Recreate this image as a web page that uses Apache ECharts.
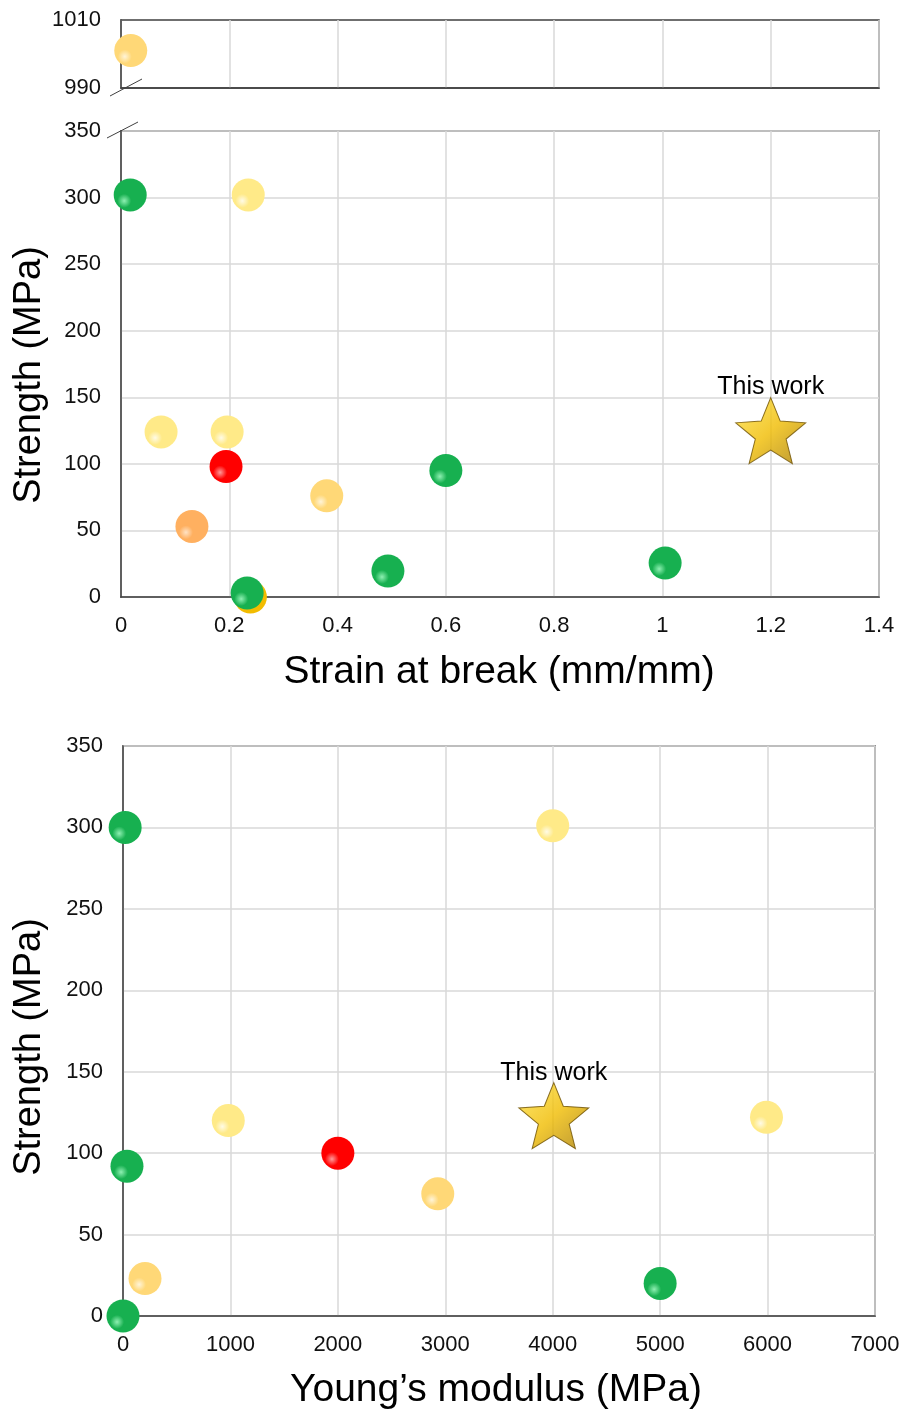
<!DOCTYPE html>
<html>
<head>
<meta charset="utf-8">
<script src="https://cdn.jsdelivr.net/npm/echarts@6/dist/echarts.min.js"></script>
<style>
html,body{margin:0;padding:0;background:#fff;}
#chart{width:903px;height:1414px;}
</style>
</head>
<body>
<div id="chart"></div>
<script>
// ---------- DATA ----------
// Chart 1: Strength vs strain at break
const strainTop = [[0.018, 1001]];                     // broken-axis upper panel (light gold)
const strainDeepGold = [[0.239, 0]];                   // mostly hidden behind a green ball
const strainGold = [[0.38, 76]];                       // light gold
const strainPale = [[0.235, 302], [0.074, 124], [0.196, 124]];
const strainRed = [[0.194, 98]];
const strainOrange = [[0.131, 53]];
const strainGreen = [[0.017, 302], [0.6, 95], [0.493, 19.5], [0.233, 3], [1.005, 25.5]];
const strainStar = [[1.2, 125]];

// Chart 2: Strength vs Young's modulus
const modGold = [[2930, 75], [205, 23]];
const modPale = [[4000, 301], [980, 120], [5990, 122]];
const modRed = [[2000, 100]];
const modGreen = [[20, 300], [37, 92], [0, 0], [5000, 20]];
const modStar = [[4010, 123]];

const starLabel = 'This work';

// ---------- STYLE ----------
const FONT = '"Liberation Sans", Arial, sans-serif';
const TXT = '#000';
const TICK = '#111';
const AX = '#404040';
const GRIDC = '#d9d9d9';

function ball(base, light) {
  return {
    type: 'radial', x: 0.32, y: 0.68, r: 0.75,
    colorStops: [
      {offset: 0, color: light},
      {offset: 0.28, color: base},
      {offset: 1, color: base}
    ]
  };
}
const C_GREEN = ball('#17b050', '#8ef0b2');
const C_RED = ball('#ff0000', '#ff9a9a');
const C_ORANGE = ball('#ffb060', '#ffe2c4');
const C_PALE = ball('#ffea88', '#fffbe6');
const C_GOLD = ball('#ffd877', '#fff4d8');
const C_DEEPGOLD = ball('#f2bc00', '#ffe066');

const STAR = 'path://M50 0 L62.93 32.2 L97.55 34.55 L70.92 56.8 L79.39 90.45 L50 72 L20.61 90.45 L29.08 56.8 L2.45 34.55 L37.07 32.2 Z';
const starStyle = {
  color: {type: 'linear', x: 0, y: 0, x2: 1, y2: 1, colorStops: [
    {offset: 0, color: '#ffe34a'}, {offset: 0.5, color: '#f0bc00'}, {offset: 1, color: '#a87c00'}
  ]},
  borderColor: '#6e5000', borderWidth: 1
};

function sc(x, y, data, color) {
  return {
    type: 'scatter', xAxisIndex: x, yAxisIndex: y, data: data,
    symbolSize: 33, clip: false, itemStyle: {color: color, opacity: 1}, z: 3
  };
}
function starSeries(x, y, data) {
  return {
    type: 'scatter', xAxisIndex: x, yAxisIndex: y, data: data, clip: false,
    symbol: STAR, symbolSize: [70, 66], itemStyle: starStyle, z: 4,
    label: {show: true, position: 'top', distance: -3, formatter: starLabel,
      fontFamily: FONT, fontSize: 25, color: '#000', opacity: 1}
  };
}

const axisLbl = {fontFamily: FONT, fontSize: 22, color: TICK};

const chart = echarts.init(document.getElementById('chart'), null, {renderer: 'canvas'});
chart.setOption({
  animation: false,
  backgroundColor: '#fff',
  grid: [
    {left: 121, top: 20, width: 758, height: 68, show: true, borderColor: AX, borderWidth: 1.5},
    {left: 121, top: 131, width: 758, height: 466, show: true, borderColor: AX, borderWidth: 1.5},
    {left: 123, top: 746, width: 752, height: 570, show: true, borderColor: AX, borderWidth: 1.5}
  ],
  xAxis: [
    {gridIndex: 0, type: 'value', min: 0, max: 1.4, interval: 0.2,
      axisLabel: {show: false}, axisTick: {show: false},
      axisLine: {show: true, lineStyle: {color: AX, width: 1.5}},
      splitLine: {show: true, lineStyle: {color: GRIDC, width: 1.5}}},
    {gridIndex: 1, type: 'value', min: 0, max: 1.4, interval: 0.2,
      axisLabel: Object.assign({margin: 18, formatter: v => String(+v.toFixed(1))}, axisLbl),
      axisTick: {show: false},
      axisLine: {show: true, lineStyle: {color: AX, width: 1.5}},
      splitLine: {show: true, lineStyle: {color: GRIDC, width: 1.5}}},
    {gridIndex: 2, type: 'value', min: 0, max: 7000, interval: 1000,
      axisLabel: Object.assign({margin: 18, formatter: v => String(v)}, axisLbl),
      axisTick: {show: false},
      axisLine: {show: true, lineStyle: {color: AX, width: 1.5}},
      splitLine: {show: true, lineStyle: {color: GRIDC, width: 1.5}}}
  ],
  yAxis: [
    {gridIndex: 0, type: 'value', min: 990, max: 1010, interval: 10,
      axisLabel: Object.assign({margin: 20, formatter: v => (v === 1000 ? '' : String(v))}, axisLbl),
      axisTick: {show: false},
      axisLine: {show: true, lineStyle: {color: AX, width: 1.5}},
      splitLine: {show: false}},
    {gridIndex: 1, type: 'value', min: 0, max: 350, interval: 50,
      axisLabel: Object.assign({margin: 20}, axisLbl),
      axisTick: {show: false},
      axisLine: {show: true, lineStyle: {color: AX, width: 1.5}},
      splitLine: {show: true, lineStyle: {color: GRIDC, width: 1.5}}},
    {gridIndex: 2, type: 'value', min: 0, max: 350, interval: 50,
      axisLabel: Object.assign({margin: 20}, axisLbl),
      axisTick: {show: false},
      axisLine: {show: true, lineStyle: {color: AX, width: 1.5}},
      splitLine: {show: true, lineStyle: {color: GRIDC, width: 1.5}}}
  ],
  series: [
    sc(0, 0, strainTop, C_GOLD),
    sc(1, 1, strainDeepGold, C_DEEPGOLD),
    sc(1, 1, strainGold, C_GOLD),
    sc(1, 1, strainPale, C_PALE),
    sc(1, 1, strainOrange, C_ORANGE),
    sc(1, 1, strainRed, C_RED),
    sc(1, 1, strainGreen, C_GREEN),
    starSeries(1, 1, strainStar),
    sc(2, 2, modGold, C_GOLD),
    sc(2, 2, modPale, C_PALE),
    sc(2, 2, modRed, C_RED),
    sc(2, 2, modGreen, C_GREEN),
    starSeries(2, 2, modStar)
  ],
  graphic: [
    {type: 'line', shape: {x1: 110, y1: 96, x2: 142, y2: 79}, style: {stroke: AX, lineWidth: 1}, z: 10},
    {type: 'line', shape: {x1: 107, y1: 138, x2: 138, y2: 122}, style: {stroke: AX, lineWidth: 1}, z: 10},
    {type: 'text', x: 499, y: 672, style: {text: 'Strain at break (mm/mm)', font: '39px ' + FONT, fill: TXT, textAlign: 'center', textVerticalAlign: 'middle'}},
    {type: 'text', x: 496, y: 1390, style: {text: 'Young\u2019s modulus (MPa)', font: '39px ' + FONT, fill: TXT, textAlign: 'center', textVerticalAlign: 'middle'}},
    {type: 'text', x: 30, y: 375, rotation: Math.PI / 2, style: {text: 'Strength (MPa)', font: '38px ' + FONT, fill: TXT, textAlign: 'center', textVerticalAlign: 'middle'}},
    {type: 'text', x: 30, y: 1047, rotation: Math.PI / 2, style: {text: 'Strength (MPa)', font: '38px ' + FONT, fill: TXT, textAlign: 'center', textVerticalAlign: 'middle'}}
  ]
});
</script>
</body>
</html>
